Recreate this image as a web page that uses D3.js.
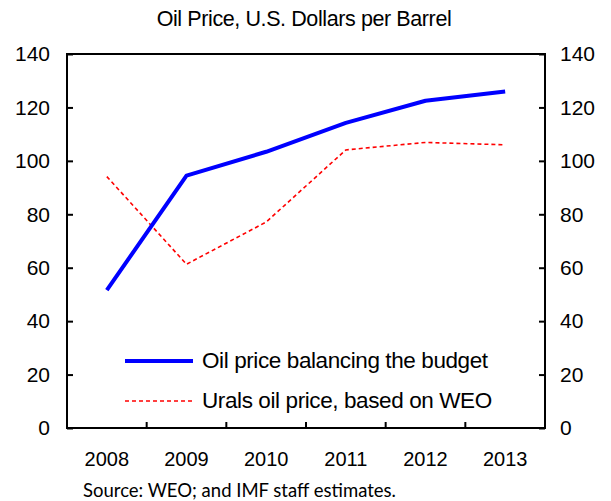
<!DOCTYPE html>
<html><head><meta charset="utf-8">
<script src="https://cdn.jsdelivr.net/npm/d3@7"></script>
<style>body{margin:0;background:#fff}</style>
</head><body>
<svg id="c" width="611" height="501"></svg>
<script>
const years = ["2008","2009","2010","2011","2012","2013"];
const balancing = [51.6, 94.5, 103.4, 114.2, 122.5, 126.0];
const urals = [94.1, 61.3, 77.1, 104.1, 106.9, 106.0];
const yTicks = [0,20,40,60,80,100,120,140];
const seriesNames = ["Oil price balancing the budget","Urals oil price, based on WEO"];

const svg = d3.select("#c");
const L=67, R=545, T=54, B=428;
const x = d3.scaleBand().domain(years).range([L,R]);
const y = d3.scaleLinear().domain([0,140]).range([B,T]);
const font = "Liberation Sans, Arial, sans-serif";

svg.append("text").attr("x",304).attr("y",26).attr("text-anchor","middle")
  .attr("font-family",font).attr("font-size",21.5).attr("letter-spacing","-0.4")
  .text("Oil Price, U.S. Dollars per Barrel");

svg.append("rect").attr("x",L).attr("y",T).attr("width",R-L).attr("height",B-T)
  .attr("fill","none").attr("stroke","#000").attr("stroke-width",2);

const la = svg.append("g").attr("transform",`translate(${L},0)`)
  .call(d3.axisLeft(y).tickValues(yTicks).tickSize(-6).tickPadding(17));
const ra = svg.append("g").attr("transform",`translate(${R},0)`)
  .call(d3.axisRight(y).tickValues(yTicks).tickSize(-6).tickPadding(15));
[la,ra].forEach(a=>{
  a.select(".domain").remove();
  a.selectAll(".tick line").attr("stroke","#000").attr("stroke-width",2);
  a.selectAll(".tick text").attr("font-family",font).attr("font-size",21).attr("fill","#000");
});

const bx = svg.append("g").attr("transform",`translate(0,${B})`)
  .call(d3.axisBottom(x).tickSize(0).tickPadding(24));
bx.select(".domain").remove();
bx.selectAll(".tick text").attr("font-family",font).attr("font-size",20).attr("fill","#000");
svg.append("g").selectAll("line").data(years.slice(1)).join("line")
  .attr("x1",d=>x(d)).attr("x2",d=>x(d)).attr("y1",B).attr("y2",B-6)
  .attr("stroke","#000").attr("stroke-width",2);

const line = d3.line().x((d,i)=>x(years[i])+x.bandwidth()/2).y(d=>y(d));
svg.append("path").datum(urals).attr("d",line).attr("fill","none")
  .attr("stroke","#ff0000").attr("stroke-width",1.6).attr("stroke-dasharray","4,3");
svg.append("path").datum(balancing).attr("d",line).attr("fill","none")
  .attr("stroke","#0000ff").attr("stroke-width",4).attr("stroke-linejoin","round");

const lg = svg.append("g");
lg.append("line").attr("x1",125).attr("x2",193).attr("y1",361).attr("y2",361)
  .attr("stroke","#0000ff").attr("stroke-width",4);
lg.append("line").attr("x1",125).attr("x2",193).attr("y1",401).attr("y2",401)
  .attr("stroke","#ff0000").attr("stroke-width",1.6).attr("stroke-dasharray","4,3");
lg.selectAll("text").data(seriesNames).join("text")
  .attr("x",202).attr("y",(d,i)=>368+i*40)
  .attr("font-family",font).attr("font-size",22.5).attr("fill","#000")
  .attr("letter-spacing","-0.4").text(d=>d);

svg.append("text").attr("x",83).attr("y",497)
  .attr("font-family","Lato, Open Sans, sans-serif").attr("font-size",18.5)
  .text("Source: WEO; and IMF staff estimates.");
</script>
</body></html>
